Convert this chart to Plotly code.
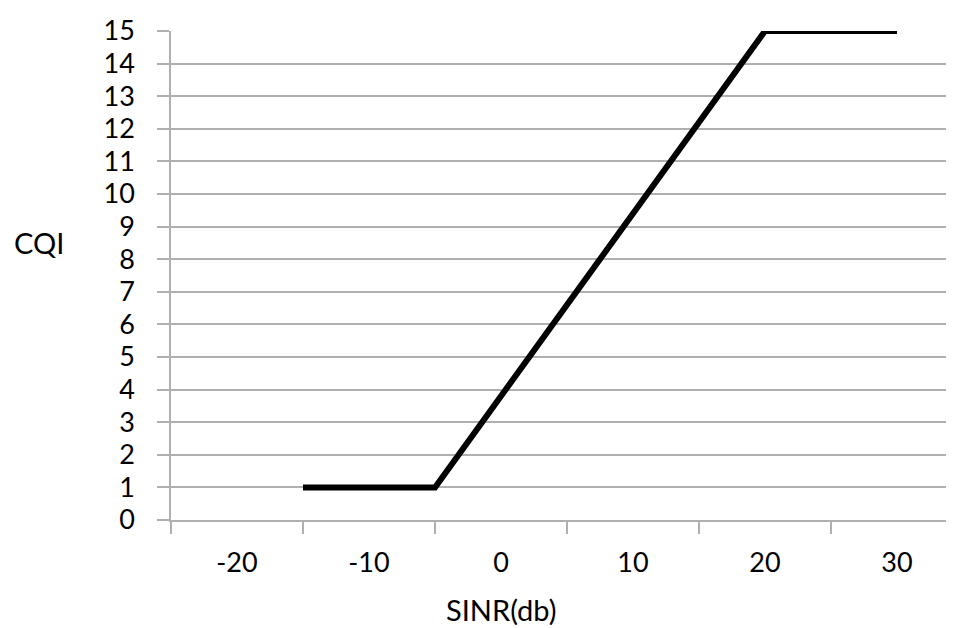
import plotly.graph_objects as go

sinr = [-15, -5, 20, 30]
cqi = [1, 1, 15, 15]
x_tick_vals = [-20, -10, 0, 10, 20, 30]
x_tick_text = ["-20", "-10", "0", "10", "20", "30"]
x_mark_vals = [-25, -15, -5, 5, 15, 25]
y_tick_vals = list(range(0, 16))

FONT = "Lato, Open Sans, sans-serif"
GRID = "#b0b0b0"

fig = go.Figure()
fig.add_trace(go.Scatter(x=sinr, y=cqi, mode="lines",
                         line=dict(color="black", width=6), showlegend=False))

fig.update_layout(
    width=946, height=620,
    paper_bgcolor="white", plot_bgcolor="white",
    margin=dict(l=163, r=0, t=23, b=108),
    font=dict(family=FONT, size=27, color="black"),
    xaxis=dict(range=[-25, 34.32], tickmode="array", tickvals=x_tick_vals, ticktext=x_tick_text,
               ticks="", showgrid=False, zeroline=False, showline=True, linecolor=GRID, linewidth=1.5,
               tickfont=dict(size=27), ticklabelstandoff=18,
               minor=dict(tickmode="array", tickvals=x_mark_vals, ticks="outside", ticklen=12,
                          tickcolor=GRID, tickwidth=1.5, showgrid=False)),
    yaxis=dict(range=[0, 15], tickmode="array", tickvals=y_tick_vals,
               ticks="outside", ticklen=12, tickcolor=GRID, tickwidth=1.5,
               tickfont=dict(size=27),
               showgrid=True, gridcolor=GRID, gridwidth=1.5, zeroline=False,
               showline=True, linecolor=GRID, linewidth=1.5, ticklabelstandoff=17),
    annotations=[
        dict(text="CQI", x=-0.203, xref="paper", xanchor="left", y=0.5685, yref="paper",
             yanchor="middle", showarrow=False, font=dict(size=29)),
        dict(text="SINR(db)", x=0, xref="x", xanchor="center", y=-0.184, yref="paper",
             yanchor="middle", showarrow=False, font=dict(size=29)),
    ],
)
fig.write_html("out.html")
